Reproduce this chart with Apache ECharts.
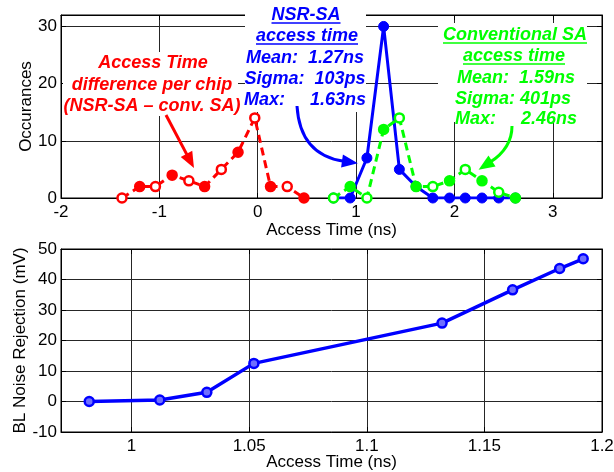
<!DOCTYPE html>
<html>
<head>
<meta charset="utf-8">
<script src="https://cdn.jsdelivr.net/npm/echarts@6/dist/echarts.min.js"></script>
<style>html,body{margin:0;padding:0;background:#fff;}#c{width:614px;height:472px;}</style>
</head>
<body>
<div id="c"></div>
<script>
// ---- Data ----
const diffX = [-1.38, -1.20, -1.04, -0.87, -0.70, -0.54, -0.37, -0.20, -0.03, 0.13, 0.30, 0.47];
const diffY = [0, 2, 2, 4, 3, 2, 5, 8, 14, 2, 2, 0];
const saX = [0.77, 0.94, 1.11, 1.28, 1.44, 1.61, 1.78, 1.95, 2.11, 2.28, 2.45, 2.62];
const nsrY = [0, 0, 7, 30, 5, 2, 0, 0, 0, 0, 0, 0];
const convY = [0, 2, 0, 12, 14, 2, 2, 3, 5, 3, 1, 0];
const rejX = [0.982, 1.012, 1.032, 1.052, 1.132, 1.162, 1.182, 1.192];
const rejY = [0, 0.5, 3, 12.5, 25.7, 36.6, 43.6, 46.8];

const topXTitle = 'Access Time (ns)';
const topYTitle = 'Occurances';
const botXTitle = 'Access Time (ns)';
const botYTitle = 'BL Noise Rejection (mV)';

const redText = ['Access Time', 'difference per chip', '(NSR-SA \u2013 conv. SA)'];
const blueText = ['NSR-SA', 'access time', 'Mean:  1.27ns', 'Sigma:  103ps', 'Max:     1.63ns'];
const greenText = ['Conventional SA', 'access time', 'Mean:  1.59ns', 'Sigma: 401ps', 'Max:     2.46ns'];

// ---- Styling ----
const FF = '"Liberation Sans", Arial, sans-serif';
const RED = '#ff0000', BLUE = '#0000ff', GREEN = '#00ff00';
const GRIDC = '#262626';
const annFont = 'italic bold 18px ' + FF;
const TICK_FS = 17, TITLE_FS = 17;

const zip = (xs, ys) => xs.map((x, i) => [x, ys[i]]);

const chart = echarts.init(document.getElementById('c'), null, {renderer: 'canvas'});

function mainX(gi, min, max, interval, name, gap, showMax) {
  const a = {
    type: 'value', gridIndex: gi, min: min, max: max,
    name: name, nameLocation: 'middle', nameGap: gap, nameMoveOverlap: false,
    nameTextStyle: {color: '#000', fontSize: TITLE_FS, fontFamily: FF},
    axisLine: {show: true, onZero: false, lineStyle: {color: '#000', width: 1}},
    axisTick: {show: true, inside: true, length: 5, lineStyle: {color: '#000'}},
    axisLabel: {color: '#000', fontSize: TICK_FS, fontFamily: FF, margin: 6, showMaxLabel: showMax, showMinLabel: interval ? true : false},
    splitLine: {show: true, lineStyle: {color: GRIDC, width: 1}}
  };
  if (interval) a.interval = interval; else a.splitNumber = 5;
  return a;
}
function mainY(gi, min, max, interval, name, gap) {
  return {
    type: 'value', gridIndex: gi, min: min, max: max, interval: interval,
    name: name, nameLocation: 'middle', nameGap: gap, nameMoveOverlap: false,
    nameTextStyle: {color: '#000', fontSize: TITLE_FS, fontFamily: FF},
    axisLine: {show: true, onZero: false, lineStyle: {color: '#000', width: 1}},
    axisTick: {show: true, inside: true, length: 5, lineStyle: {color: '#000'}},
    axisLabel: {color: '#000', fontSize: TICK_FS, fontFamily: FF, margin: 4, showMaxLabel: max % interval === 0},
    splitLine: {show: true, lineStyle: {color: GRIDC, width: 1}}
  };
}
function mirrorAxis(gi, pos, min, max, interval) {
  const a = {
    type: 'value', gridIndex: gi, position: pos, min: min, max: max,
    axisLine: {show: true, onZero: false, lineStyle: {color: '#000', width: 1}},
    axisTick: {show: true, inside: true, length: 5, lineStyle: {color: '#000'}},
    axisLabel: {show: false}, splitLine: {show: false}
  };
  if (interval) a.interval = interval; else a.splitNumber = 5;
  return a;
}

// ---- Annotation helpers (graphic overlay) ----
const mctx = document.createElement('canvas').getContext('2d');
function textW(t) { mctx.font = annFont; return mctx.measureText(t).width; }

const graphics = [];
function whiteBox(x1, y1, x2, y2) {
  graphics.push({type: 'rect', z: 100, shape: {x: x1, y: y1, width: x2 - x1, height: y2 - y1},
    style: {fill: '#fff', stroke: null}, silent: true});
}
function annText(t, cx, cy, color, underline) {
  graphics.push({type: 'text', z: 102, x: cx, y: cy,
    style: {text: t, font: annFont, fill: color, align: 'center', verticalAlign: 'middle'}, silent: true});
  if (underline) {
    const w = textW(t);
    graphics.push({type: 'line', z: 102, shape: {x1: cx - w / 2, y1: cy + 8, x2: cx + w / 2, y2: cy + 8},
      style: {stroke: color, lineWidth: 1.6}, silent: true});
  }
}
function arrow(p0, ctrl, base, headLen, headW, color) {
  let dx, dy;
  if (ctrl) { dx = base[0] - ctrl[0]; dy = base[1] - ctrl[1]; }
  else { dx = base[0] - p0[0]; dy = base[1] - p0[1]; }
  const L = Math.hypot(dx, dy); dx /= L; dy /= L;
  const tip = [base[0] + dx * headLen, base[1] + dy * headLen];
  const px = -dy, py = dx;
  if (ctrl) {
    graphics.push({type: 'bezierCurve', z: 103,
      shape: {x1: p0[0], y1: p0[1], cpx1: ctrl[0], cpy1: ctrl[1], x2: base[0] + dx * 2, y2: base[1] + dy * 2},
      style: {stroke: color, lineWidth: 3, fill: null}, silent: true});
  } else {
    graphics.push({type: 'line', z: 103,
      shape: {x1: p0[0], y1: p0[1], x2: base[0] + dx * 2, y2: base[1] + dy * 2},
      style: {stroke: color, lineWidth: 3}, silent: true});
  }
  graphics.push({type: 'polygon', z: 103,
    shape: {points: [tip, [base[0] + px * headW / 2, base[1] + py * headW / 2], [base[0] - px * headW / 2, base[1] - py * headW / 2]]},
    style: {fill: color, stroke: null}, silent: true});
}

// white boxes behind the annotation texts
whiteBox(63, 52, 238, 116);
whiteBox(245, 2, 366, 112);
whiteBox(438, 23, 587, 122);

annText(redText[0], 153, 63, RED);
annText(redText[1], 152, 85, RED);
annText(redText[2], 152, 106, RED);

annText(blueText[0], 306, 15, BLUE, true);
annText(blueText[1], 307, 36, BLUE, true);
annText(blueText[2], 305, 58, BLUE);
annText(blueText[3], 305, 79, BLUE);
annText(blueText[4], 305, 100, BLUE);

annText(greenText[0], 515, 35, GREEN, true);
annText(greenText[1], 514, 56, GREEN, true);
annText(greenText[2], 516, 78, GREEN);
annText(greenText[3], 513, 99, GREEN);
annText(greenText[4], 516, 119, GREEN);

arrow([166, 115], null, [186.5, 153.9], 16, 13, RED);
arrow([297, 106], [300, 155], [342, 161], 16, 13, BLUE);
arrow([512, 126], [512, 148], [492, 161], 16, 13, GREEN);

const open = (c) => (p) => (p.dataIndex % 2 === 1 ? c : '#ffffff');

const option = {
  animation: false,
  backgroundColor: '#fff',
  grid: [
    {left: 61, right: 12, top: 15, height: 183, show: true, borderColor: '#000', borderWidth: 1, containLabel: false, outerBoundsMode: 'none'},
    {left: 61, right: 12, top: 249, height: 183, show: true, borderColor: '#000', borderWidth: 1, containLabel: false, outerBoundsMode: 'none'}
  ],
  xAxis: [
    mainX(0, -2, 3.5, 1, topXTitle, 24, false),
    mainX(1, 0.97, 1.2, null, botXTitle, 22, true),
    mirrorAxis(0, 'top', -2, 3.5, 1),
    mirrorAxis(1, 'top', 0.97, 1.2, null)
  ],
  yAxis: [
    mainY(0, 0, 32, 10, topYTitle, 26),
    mainY(1, -10, 50, 10, botYTitle, 32),
    mirrorAxis(0, 'right', 0, 32, 10),
    mirrorAxis(1, 'right', -10, 50, 10)
  ],
  series: [
    {type: 'line', xAxisIndex: 0, yAxisIndex: 0, data: zip(diffX, diffY),
      symbol: 'circle', symbolSize: 9,
      lineStyle: {color: RED, width: 3, type: [8, 5]},
      itemStyle: {color: open(RED), borderColor: RED, borderWidth: 2.5}},
    {type: 'line', xAxisIndex: 0, yAxisIndex: 0, data: zip(saX, nsrY),
      symbol: 'circle', symbolSize: 10,
      lineStyle: {color: BLUE, width: 3},
      itemStyle: {color: BLUE, borderColor: BLUE, borderWidth: 1}},
    {type: 'line', xAxisIndex: 0, yAxisIndex: 0, data: zip(saX, convY),
      symbol: 'circle', symbolSize: 9,
      lineStyle: {color: GREEN, width: 3, type: [8, 5]},
      itemStyle: {color: open(GREEN), borderColor: GREEN, borderWidth: 2.5}},
    {type: 'line', xAxisIndex: 1, yAxisIndex: 1, data: zip(rejX, rejY),
      symbol: 'circle', symbolSize: 9,
      lineStyle: {color: BLUE, width: 3.5},
      itemStyle: {color: '#6f6fff', borderColor: BLUE, borderWidth: 2.5}}
  ],
  graphic: graphics
};
chart.setOption(option);
</script>
</body>
</html>
